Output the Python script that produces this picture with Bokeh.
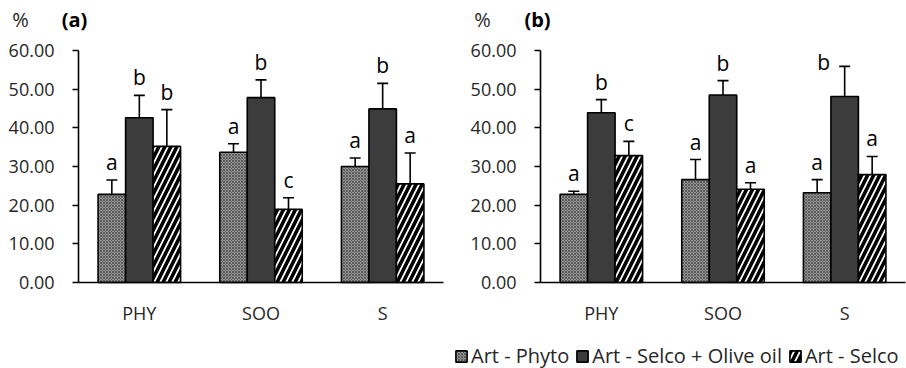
from bokeh.plotting import figure
from bokeh.layouts import row
from bokeh.models import (ColumnDataSource, Range1d, Whisker, TeeHead, Label,
                          Legend, LegendItem, FixedTicker, NumeralTickFormatter)
from bokeh.embed import file_html
from bokeh.resources import INLINE

# Diet groups on the x axis
categories = ["PHY", "SOO", "S"]
series_names = ["Art - Phyto", "Art - Selco + Olive oil", "Art - Selco"]

# Panel (a): means and standard deviations (%)
phyto_a = [22.8, 33.7, 30.0]
phyto_a_sd = [3.7, 2.2, 2.2]
oil_a = [42.6, 47.8, 44.9]
oil_a_sd = [5.8, 4.6, 6.6]
selco_a = [35.2, 18.9, 25.5]
selco_a_sd = [9.5, 3.0, 8.0]
letters_a = [["a", "a", "a"], ["b", "b", "b"], ["b", "c", "a"]]

# Panel (b): means and standard deviations (%)
phyto_b = [22.8, 26.6, 23.2]
phyto_b_sd = [0.8, 5.2, 3.4]
oil_b = [43.9, 48.5, 48.1]
oil_b_sd = [3.4, 3.7, 7.8]
selco_b = [32.8, 24.1, 27.9]
selco_b_sd = [3.7, 1.7, 4.7]
letters_b = [["a", "a", "a"], ["b", "b", "b"], ["c", "a", "a"]]

y_ticks = [0, 10, 20, 30, 40, 50, 60]
Y_MAX = 60

FONT = "Open Sans"
TXT = "#262626"
BAR_W = 0.226

# panel geometry in pixels
PANEL_W, PANEL_H = 453, 368
AXIS_Y = 282          # pixel row of the x axis
PLOT_H = 232          # pixels from 0 to 60 %
PLOT_W = 365          # pixels spanned by the three groups

styles = [
    dict(fill_color="#959595", hatch_pattern="x", hatch_scale=3,
         hatch_color="#555555", hatch_weight=0.9),
    dict(fill_color="#3c3c3c"),
    dict(fill_color="white", hatch_pattern="/", hatch_scale=12,
         hatch_color="black", hatch_weight=3.6),
]

# letter label nudges in screen pixels: (panel, series, group) -> (dx, dy)
label_nudge = {("b", 1, 2): (-21, 14)}


def make_panel(tag, means, sds, letters, left_px, hdr_px):
    ppx = PLOT_W / 3.0
    ppy = PLOT_H / Y_MAX
    x0 = -left_px / ppx
    x1 = x0 + PANEL_W / ppx
    y0 = -(PANEL_H - AXIS_Y) / ppy
    y1 = AXIS_Y / ppy

    def to_data(px, py):
        return x0 + px / ppx, y1 - py / ppy

    p = figure(width=PANEL_W, height=PANEL_H, output_backend="svg",
               toolbar_location=None,
               x_range=Range1d(x0, x1), y_range=Range1d(y0, y1),
               min_border=0)
    p.outline_line_color = None
    p.xgrid.visible = False
    p.ygrid.visible = False
    p.background_fill_color = "white"
    p.border_fill_color = "white"

    centers = [i + 0.5 for i in range(len(categories))]
    renderers = []
    for s, (m, sd, lt, st) in enumerate(zip(means, sds, letters, styles)):
        xs = [c + (s - 1) * BAR_W for c in centers]
        tops = [a + b for a, b in zip(m, sd)]
        src = ColumnDataSource(dict(x=xs, top=m, upper=tops))
        r = p.vbar(x="x", top="top", width=BAR_W, source=src,
                   line_color="black", line_width=1.6, **st)
        renderers.append(r)
        p.add_layout(Whisker(base="x", lower="top", upper="upper", source=src,
                             line_color="black", line_width=1.6,
                             upper_head=TeeHead(size=11, line_color="black",
                                                line_width=1.6),
                             lower_head=None, level="overlay"))
        for g in range(len(xs)):
            dx, dy = label_nudge.get((tag, s, g), (0, 0))
            p.add_layout(Label(x=xs[g], y=tops[g], text=lt[g], x_offset=dx,
                               y_offset=4 - dy, text_align="center",
                               text_baseline="bottom", text_font=FONT,
                               text_font_size="21px", text_color="black"))

    # axes drawn at the data origin
    p.xaxis.fixed_location = 0
    p.xaxis.bounds = (0, 3)
    p.xaxis.ticker = FixedTicker(ticks=centers)
    p.xaxis.major_label_overrides = {c: n for c, n in zip(centers, categories)}
    p.xaxis.major_tick_line_color = None
    p.xaxis.minor_tick_line_color = None
    p.xaxis.axis_line_color = "black"
    p.xaxis.axis_line_width = 1.6
    p.xaxis.major_label_text_font = FONT
    p.xaxis.major_label_text_font_size = "18px"
    p.xaxis.major_label_text_color = TXT
    p.xaxis.major_label_standoff = 12

    p.yaxis.fixed_location = 0
    p.yaxis.bounds = (0, Y_MAX)
    p.yaxis.ticker = FixedTicker(ticks=y_ticks)
    p.yaxis.formatter = NumeralTickFormatter(format="0.00")
    p.yaxis.major_tick_out = 6
    p.yaxis.major_tick_in = 0
    p.yaxis.minor_tick_line_color = None
    p.yaxis.axis_line_color = "black"
    p.yaxis.axis_line_width = 1.6
    p.yaxis.major_tick_line_width = 1.6
    p.yaxis.major_label_text_font = FONT
    p.yaxis.major_label_text_font_size = "18px"
    p.yaxis.major_label_text_color = TXT
    p.yaxis.major_label_standoff = 18

    # unit and panel tag above the axis
    ux, uy = to_data(hdr_px[0], 19)
    p.add_layout(Label(x=ux, y=uy, text="%", text_font=FONT, text_font_size="20px",
                       text_color=TXT, text_align="center", text_baseline="middle"))
    tx, ty = to_data(hdr_px[1], 19)
    p.add_layout(Label(x=tx, y=ty, text="(%s)" % tag, text_font=FONT,
                       text_font_size="20px", text_font_style="bold",
                       text_color="black", text_align="center",
                       text_baseline="middle"))
    return p, renderers


pa, _ = make_panel("a", [phyto_a, oil_a, selco_a],
                   [phyto_a_sd, oil_a_sd, selco_a_sd], letters_a, 78, (20, 74))
pb, rb = make_panel("b", [phyto_b, oil_b, selco_b],
                    [phyto_b_sd, oil_b_sd, selco_b_sd], letters_b, 87, (29, 84))

legend = Legend(items=[LegendItem(label=n, renderers=[r]) for n, r in zip(series_names, rb)],
                orientation="horizontal", location=(1, -1),
                label_text_font=FONT, label_text_font_size="20px",
                label_text_color=TXT, glyph_width=14, glyph_height=14,
                label_standoff=3, spacing=6, padding=0, margin=0,
                border_line_color=None, background_fill_alpha=0)
pb.add_layout(legend, "center")

layout = row(pa, pb)
open("out.html", "w").write(file_html(layout, INLINE))
